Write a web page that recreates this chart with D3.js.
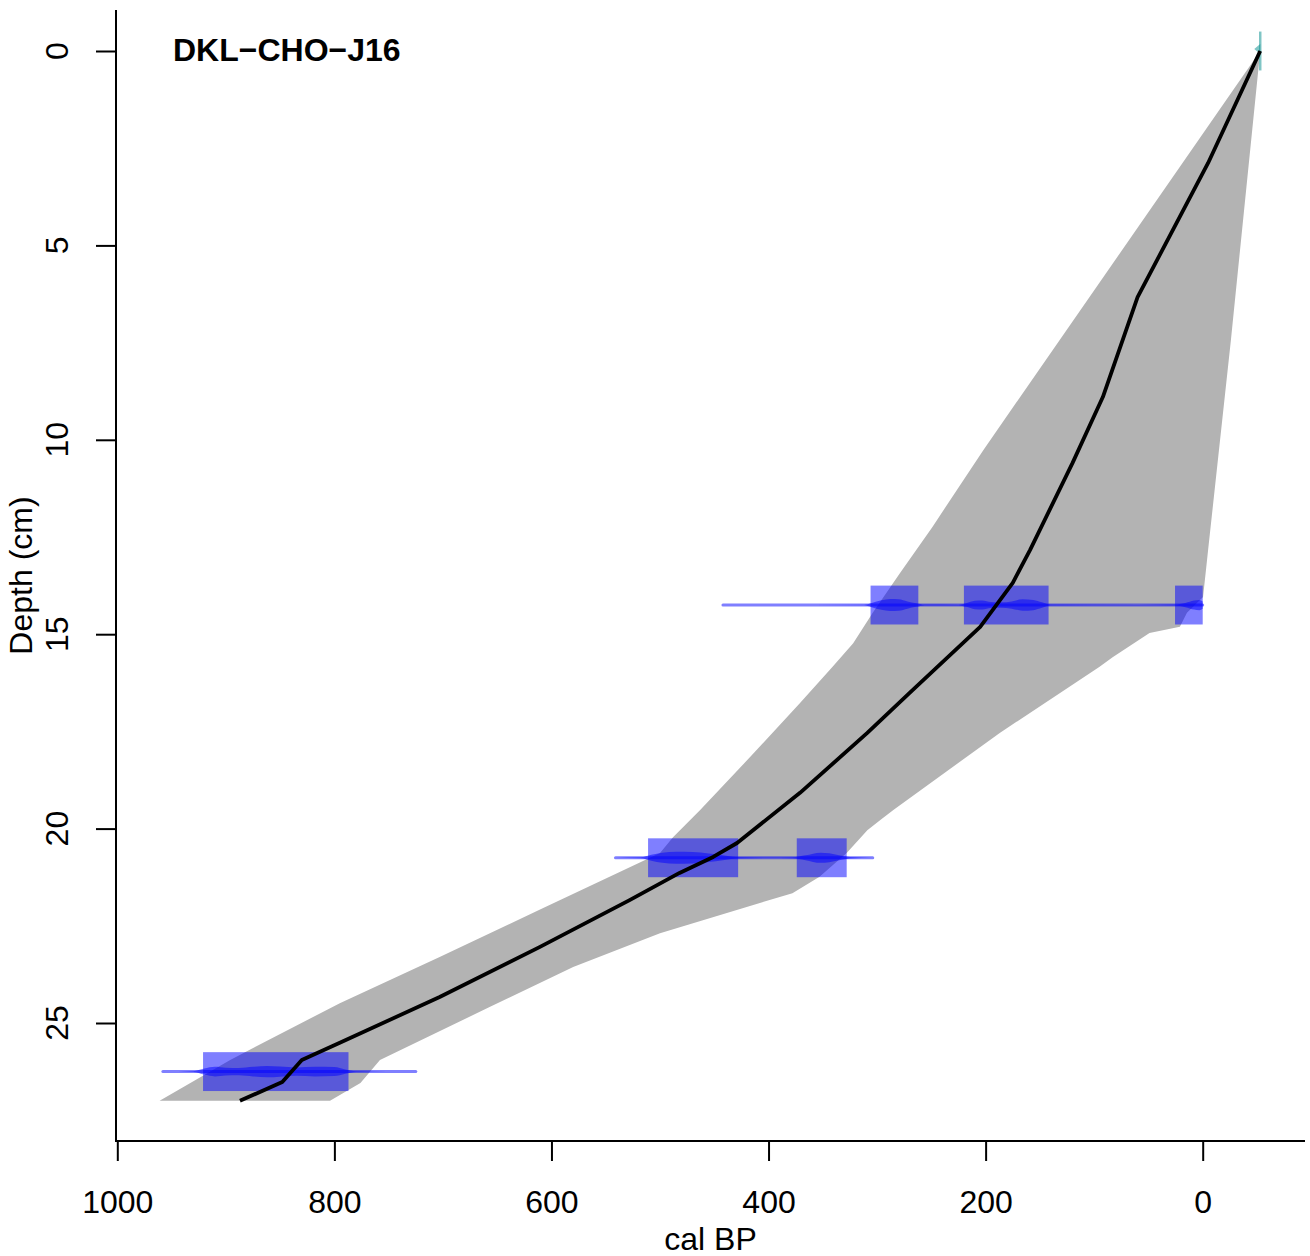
<!DOCTYPE html>
<html>
<head>
<meta charset="utf-8">
<script src="https://cdn.jsdelivr.net/npm/d3@7"></script>
<style>
  html, body { margin: 0; padding: 0; background: #fff; }
  svg { display: block; font-family: "Liberation Sans", Arial, Helvetica, sans-serif; }
</style>
</head>
<body>
<svg id="chart" width="1310" height="1256"></svg>
<script>
// ---------------- DATA ----------------
const title = "DKL\u2212CHO\u2212J16";
const xTicks = [1000, 800, 600, 400, 200, 0];
const yTicks = [0, 5, 10, 15, 20, 25];

// age-depth model: [cal BP, depth cm]
const medianCal   = [-53, -5, 60, 92, 120, 159, 175, 205, 270, 309, 371, 429, 451, 482, 528, 611, 703, 795, 830, 848, 887];
const medianDepth = [0, 2.88, 6.33, 8.9, 10.6, 12.83, 13.68, 14.81, 16.51, 17.54, 19.08, 20.37, 20.73, 21.14, 21.84, 23.05, 24.33, 25.51, 25.95, 26.52, 27.0];

// envelope, older (left) edge
const oldCal   = [-53, 202, 249, 279, 304, 322, 341, 371, 417, 463, 488, 500, 611, 703, 795, 896, 961];
const oldDepth = [0, 10.26, 12.24, 13.43, 14.45, 15.23, 15.84, 16.77, 18.16, 19.52, 20.22, 20.63, 22.09, 23.30, 24.49, 25.95, 27.0];
// envelope, younger (right) edge
const youngCal   = [-53, -26, -5, -4, -0.3, 14.5, 21, 49, 83, 95, 187, 285, 297, 309, 328, 353, 378, 500, 580, 657, 758, 776, 804];
const youngDepth = [0, 7.43, 12.83, 13.09, 14.04, 14.45, 14.81, 14.97, 15.59, 15.84, 17.54, 19.52, 19.78, 20.04, 20.63, 21.24, 21.66, 22.69, 23.56, 24.59, 25.95, 26.54, 27.0];

// calibrated dates
const dateDepths   = [14.25, 20.75, 26.25];
const dateThick    = [1, 1, 1];
const dateRangeMin = [0, 304, 725];
const dateRangeMax = [442, 541, 958];
// highest-probability ranges [from, to] cal BP
const dateBoxes = [
  [[262, 306], [142, 220], [0, 25.5]],
  [[428, 511], [328, 374]],
  [[787, 921]]
];
// probability density (relative) along the date: [cal BP, density]
const dateDensity = [
  [[442, 0], [312, 0.05], [305, 0.35], [296, 0.8], [288, 1.0], [280, 0.95], [272, 0.6], [264, 0.3], [256, 0.08], [225, 0.06],
   [218, 0.3], [210, 0.7], [203, 0.75], [195, 0.5], [186, 0.45], [176, 0.6], [166, 0.95], [156, 0.85], [148, 0.45], [140, 0.08],
   [60, 0.02], [26, 0.08], [16, 0.35], [8, 0.75], [3, 0.85], [0, 0.6]],
  [[541, 0], [518, 0.08], [508, 0.5], [498, 0.85], [485, 1.0], [470, 0.95], [455, 0.7], [442, 0.4], [430, 0.12], [400, 0.03],
   [378, 0.08], [366, 0.4], [352, 0.85], [344, 0.75], [335, 0.4], [325, 0.12], [304, 0]],
  [[958, 0], [930, 0.05], [920, 0.5], [910, 0.8], [900, 0.65], [888, 0.6], [875, 0.8], [862, 0.95], [850, 0.85], [835, 0.7],
   [818, 0.8], [800, 0.75], [790, 0.35], [780, 0.06], [725, 0]]
];
// surface (modern) date
const surfaceCal = [-53];
const surfaceDepth = [0];

// ---------------- LAYOUT ----------------
const svg = d3.select("#chart");
const plotL = 116, plotR = 1305, plotT = 10, plotB = 1141;
const x = d3.scaleLinear().domain([1000, 0]).range([117.3, 1202.7]);
const y = d3.scaleLinear().domain([0, 25]).range([51, 1023]);
const FS = 32;

// envelope polygon
const envPts = [];
oldCal.forEach((c, i) => envPts.push([x(c), y(oldDepth[i])]));
for (let i = youngCal.length - 1; i >= 0; i--) envPts.push([x(youngCal[i]), y(youngDepth[i])]);
svg.append("path")
  .attr("d", d3.line()(envPts) + "Z")
  .attr("fill", "#b3b3b3").attr("stroke", "none");

// calibrated dates
const blue = "rgba(0,0,255,0.5)";
dateDepths.forEach((d, i) => {
  const yc = y(d), h = y(d + dateThick[i] / 2) - y(d - dateThick[i] / 2);
  const g = svg.append("g");
  dateBoxes[i].forEach(([a, b]) => {
    g.append("rect")
      .attr("x", x(b)).attr("width", x(a) - x(b))
      .attr("y", yc - h / 2).attr("height", h)
      .attr("fill", blue);
  });
  g.append("line")
    .attr("x1", x(dateRangeMax[i])).attr("x2", x(dateRangeMin[i]))
    .attr("y1", yc).attr("y2", yc)
    .attr("stroke", blue).attr("stroke-width", 3).attr("stroke-linecap", "round");
  const maxH = 6;
  const area = d3.area().curve(d3.curveMonotoneX)
    .x(p => p[0]).y0(p => yc - p[1] * maxH).y1(p => yc + p[1] * maxH);
  const pts = dateDensity[i].map(([c, v]) => [x(c), v]).sort((a, b) => a[0] - b[0]);
  g.append("path").attr("d", area(pts)).attr("fill", blue);
});

// surface date
surfaceCal.forEach((c, i) => {
  svg.append("line")
    .attr("x1", x(c)).attr("x2", x(c))
    .attr("y1", y(surfaceDepth[i] - 0.5)).attr("y2", y(surfaceDepth[i] + 0.5))
    .attr("stroke", "rgba(0,139,139,0.5)").attr("stroke-width", 2.5);
  svg.append("path")
    .attr("d", `M${x(c) - 6},${y(surfaceDepth[i]) - 2}L${x(c)},${y(surfaceDepth[i]) - 7}L${x(c)},${y(surfaceDepth[i]) + 3}Z`)
    .attr("fill", "rgba(0,139,139,0.5)");
});

// median line
svg.append("path")
  .attr("d", d3.line()(medianCal.map((c, i) => [x(c), y(medianDepth[i])])))
  .attr("fill", "none").attr("stroke", "#000").attr("stroke-width", 3.8)
  .attr("stroke-linejoin", "round");

// box (L)
svg.append("path")
  .attr("d", `M${plotL},${plotT}V${plotB}H${plotR}`)
  .attr("fill", "none").attr("stroke", "#000").attr("stroke-width", 2);

// x axis
const xAxis = svg.append("g").attr("transform", `translate(0,${plotB})`)
  .call(d3.axisBottom(x).tickValues(xTicks).tickSize(20).tickSizeOuter(0).tickFormat(d3.format("d")));
xAxis.select(".domain").remove();
xAxis.selectAll(".tick line").attr("stroke", "#000").attr("stroke-width", 2);
xAxis.selectAll(".tick text").attr("y", 72).attr("dy", 0)
  .attr("font-size", FS).attr("font-family", "Liberation Sans, Arial, sans-serif").attr("fill", "#000");

// y axis
const yAxis = svg.append("g").attr("transform", `translate(${plotL},0)`)
  .call(d3.axisLeft(y).tickValues(yTicks).tickSize(20).tickSizeOuter(0).tickFormat(""));
yAxis.select(".domain").remove();
yAxis.selectAll(".tick line").attr("stroke", "#000").attr("stroke-width", 2);
svg.selectAll(".ylab").data(yTicks).enter().append("text")
  .attr("transform", d => `translate(68,${y(d)}) rotate(-90)`)
  .attr("text-anchor", "middle").attr("font-size", FS).text(d => d);

// axis titles
svg.append("text").attr("x", (plotL + plotR) / 2).attr("y", 1250)
  .attr("text-anchor", "middle").attr("font-size", FS).text("cal BP");
svg.append("text")
  .attr("transform", `translate(32,${(plotT + plotB) / 2}) rotate(-90)`)
  .attr("text-anchor", "middle").attr("font-size", FS).text("Depth (cm)");

// title
svg.append("text").attr("x", 173).attr("y", 61)
  .attr("font-size", FS).attr("font-weight", "bold").text(title);
</script>
</body>
</html>
